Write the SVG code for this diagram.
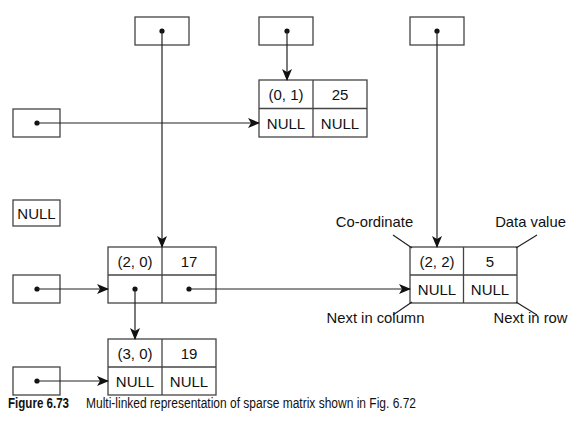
<svg xmlns="http://www.w3.org/2000/svg" width="574" height="433" viewBox="0 0 574 433">
<defs>
<style>
.box{fill:#fff;stroke:#444;stroke-width:1.3}
.div{stroke:#444;stroke-width:1.3}
.t{font-family:"Liberation Sans",Arial,sans-serif;font-size:15px;fill:#111;text-anchor:middle}
.lbl{font-family:"Liberation Sans",Arial,sans-serif;font-size:14.8px;fill:#111;text-anchor:middle}
.cap{font-family:"Liberation Sans",Arial,sans-serif;font-size:14px;fill:#111}
.ln{stroke:#222;stroke-width:1.2;fill:none}
.dot{fill:#111}
</style>
<marker id="ah" viewBox="0 0 12 10" refX="11" refY="5" markerWidth="12" markerHeight="10" markerUnits="userSpaceOnUse" orient="auto">
<path d="M0,0 L12,5 L0,10 L3,5 z" fill="#111"/>
</marker>
</defs>
<g id="head-col0"><rect class="box" x="135" y="17" width="54" height="28"/><circle class="dot" cx="162" cy="31" r="2.6"/></g>
<g id="head-col1"><rect class="box" x="259" y="17" width="54" height="28"/><circle class="dot" cx="287" cy="31" r="2.6"/></g>
<g id="head-col2"><rect class="box" x="410" y="17" width="54" height="28"/><circle class="dot" cx="437" cy="31" r="2.6"/></g>
<g id="head-row0"><rect class="box" x="13" y="109" width="47" height="28"/><circle class="dot" cx="37" cy="123" r="2.6"/></g>
<g id="head-row1"><rect class="box" x="13" y="200" width="47" height="26"/><text class="t" x="36.5" y="218.5">NULL</text></g>
<g id="head-row2"><rect class="box" x="13" y="275" width="47" height="28"/><circle class="dot" cx="37" cy="289" r="2.6"/></g>
<g id="head-row3"><rect class="box" x="13" y="367" width="47" height="28"/><circle class="dot" cx="37" cy="381" r="2.6"/></g>
<g id="node-01">
<rect class="box" x="259" y="80" width="108" height="57"/>
<line class="div" x1="259" y1="108.5" x2="367" y2="108.5"/>
<line class="div" x1="313" y1="80" x2="313" y2="137"/>
<text class="t" x="286" y="99.5">(0, 1)</text><text class="t" x="340" y="99.5">25</text>
<text class="t" x="286" y="128.5">NULL</text><text class="t" x="340" y="128.5">NULL</text>
</g>
<g id="node-20">
<rect class="box" x="108" y="247" width="108" height="56"/>
<line class="div" x1="108" y1="275" x2="216" y2="275"/>
<line class="div" x1="162" y1="247" x2="162" y2="303"/>
<text class="t" x="135" y="266.5">(2, 0)</text><text class="t" x="189" y="266.5">17</text>
<circle class="dot" cx="135" cy="289" r="2.6"/><circle class="dot" cx="189" cy="289" r="2.6"/>
</g>
<g id="node-30">
<rect class="box" x="108" y="339" width="108" height="56"/>
<line class="div" x1="108" y1="367" x2="216" y2="367"/>
<line class="div" x1="162" y1="339" x2="162" y2="395"/>
<text class="t" x="135" y="358.5">(3, 0)</text><text class="t" x="189" y="358.5">19</text>
<text class="t" x="135" y="386.5">NULL</text><text class="t" x="189" y="386.5">NULL</text>
</g>
<g id="node-22">
<rect class="box" x="410" y="247" width="107" height="56"/>
<line class="div" x1="410" y1="275" x2="517" y2="275"/>
<line class="div" x1="463.5" y1="247" x2="463.5" y2="303"/>
<text class="t" x="437" y="266.5">(2, 2)</text><text class="t" x="490" y="266.5">5</text>
<text class="t" x="437" y="294.5">NULL</text><text class="t" x="490" y="294.5">NULL</text>
</g>
<g id="connectors">
<line class="ln" x1="162" y1="31" x2="162" y2="247" marker-end="url(#ah)"/>
<line class="ln" x1="287" y1="31" x2="287" y2="80" marker-end="url(#ah)"/>
<line class="ln" x1="437" y1="31" x2="437" y2="247" marker-end="url(#ah)"/>
<line class="ln" x1="37" y1="123" x2="259" y2="123" marker-end="url(#ah)"/>
<line class="ln" x1="37" y1="289" x2="108" y2="289" marker-end="url(#ah)"/>
<line class="ln" x1="37" y1="381" x2="108" y2="381" marker-end="url(#ah)"/>
<line class="ln" x1="135" y1="289" x2="135" y2="339" marker-end="url(#ah)"/>
<line class="ln" x1="189" y1="289" x2="410" y2="289" marker-end="url(#ah)"/>
</g>
<g id="callouts">
<line class="ln" x1="393" y1="235" x2="412" y2="248"/>
<line class="ln" x1="537" y1="235" x2="516" y2="248"/>
<line class="ln" x1="412" y1="302" x2="393" y2="315"/>
<line class="ln" x1="516" y1="302" x2="537" y2="315"/>
<text class="lbl" x="374.5" y="227">Co-ordinate</text>
<text class="lbl" x="530.5" y="227">Data value</text>
<text class="lbl" x="375.5" y="322.5">Next in column</text>
<text class="lbl" x="530.5" y="322.5">Next in row</text>
</g>
<g id="caption">
<text class="cap" x="8" y="407.5" font-weight="bold" textLength="61" lengthAdjust="spacingAndGlyphs">Figure 6.73</text>
<text class="cap" x="86" y="407.5" textLength="330" lengthAdjust="spacingAndGlyphs">Multi-linked representation of sparse matrix shown in Fig. 6.72</text>
</g>
</svg>
